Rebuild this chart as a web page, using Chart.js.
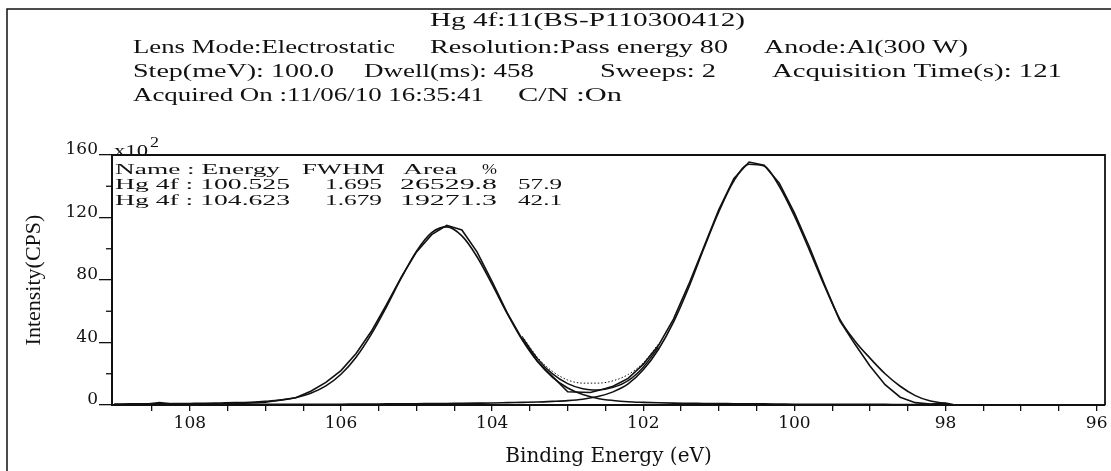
<!DOCTYPE html>
<html>
<head>
<meta charset="utf-8">
<script src="https://cdn.jsdelivr.net/npm/chart.js@4.4.1/dist/chart.umd.min.js"></script>
<style>
  html, body { margin: 0; padding: 0; background: #fff; }
  canvas { display: block; }
</style>
</head>
<body>
<canvas id="xps" width="1111" height="471"></canvas>
<script>
// binding energy grid of the fitted components (eV)
const fitEnergy = [109.0,108.8,108.6,108.4,108.2,108.0,107.8,107.6,107.4,107.2,107.0,106.8,106.6,106.4,106.2,106.0,105.8,105.6,105.4,105.2,105.0,104.8,104.6,104.4,104.2,104.0,103.8,103.6,103.4,103.2,103.0,102.8,102.6,102.4,102.2,102.0,101.8,101.6,101.4,101.2,101.0,100.8,100.6,100.4,100.2,100.0,99.8,99.6,99.4,99.2,99.0,98.8,98.6,98.4,98.2,98.0];
// Hg 4f : 104.623 component (x10^2 CPS)
const peak104 = [0.6,0.7,0.7,0.8,0.9,1.0,1.1,1.3,1.5,1.8,2.3,3.1,4.7,7.5,12.2,19.7,30.6,45.2,62.7,81.5,98.5,110.3,114.0,108.2,94.9,77.2,58.5,41.5,27.8,17.7,10.9,6.7,4.2,2.9,2.1,1.7,1.4,1.2,1.1,1.0,0.9,0.8,0.7,0.7,0.6,0.5,0.5,0.5,0.4,0.4,0.4,0.4,0.3,0.3,0.3,0.3];
// Hg 4f : 100.525 component
const peak100 = [0.2,0.2,0.3,0.3,0.3,0.3,0.3,0.3,0.4,0.4,0.4,0.4,0.4,0.5,0.5,0.5,0.6,0.6,0.7,0.7,0.8,0.9,1.0,1.1,1.2,1.3,1.5,1.7,1.9,2.3,2.8,3.7,5.4,8.4,13.5,22.5,35.5,53.0,75.0,100.0,123.7,143.5,154.1,153.0,140.0,121.0,99.0,76.0,55.0,41.0,30.0,20.0,12.0,6.0,2.5,1.0];

// measured spectrum
const rawEnergy = [109.0,108.8,108.6,108.4,108.2,108.0,107.8,107.6,107.4,107.2,107.0,106.8,106.6,106.4,106.2,106.0,105.8,105.6,105.4,105.2,105.0,104.8,104.6,104.4,104.2,104.0,103.8,103.6,103.4,103.0,102.7,102.5,102.4,102.2,102.0,101.8,101.6,101.4,101.2,101.0,100.8,100.6,100.4,100.2,100.0,99.8,99.6,99.4,99.2,99.0,98.8,98.6,98.4,98.2,98.0,97.9];
const rawCounts = [0.3,0.2,0.4,1.6,0.4,0.3,0.6,0.6,0.9,1.3,1.8,3.2,4.6,8.8,14.5,22,33,47,64,82,98,109,115,112,98,79,59,42,28,8.5,8.0,10.5,12,17,26,38,55,77,101,125,145,155.5,153.5,142,123,101,77,54,39,25,13,5,1.5,0.6,1.2,0.3];

// envelope in the valley between the peaks
const valleyEnergy = [103.6,103.4,103.2,103.0,102.8,102.6,102.4,102.2,102.0,101.8];
const fitSum = [43.2,29.7,19.9,13.7,10.4,9.6,11.3,15.6,24.2,36.9];
const envelopeDotted = [44,30.5,21.5,16,14,14,15.5,19.5,27,39];

// axis ticks
const xTickValues = [96,96.5,97,97.5,98,98.5,99,99.5,100,100.5,101,101.5,102,102.5,103,103.5,104,104.5,105,105.5,106,106.5,107,107.5,108,108.5];
const xTickLabels = [96,98,100,102,104,106,108];
const yTickValues = [0,40,80,120,160];
const yMinorTicks = [20,60,100,140];

const ink = '#111';
const pts = (xs, ys) => xs.map((x, i) => ({x: x, y: ys[i]}));

function stretchText(ctx, str, x1, x2, y, size){
    ctx.font = size + 'px "Liberation Serif"';
    const w = ctx.measureText(str).width;
    ctx.save();
    ctx.translate(x1, y);
    ctx.scale((x2 - x1) / w, 1);
    ctx.textBaseline = 'middle';
    ctx.textAlign = 'left';
    ctx.fillText(str, 0, 0);
    ctx.restore();
}

const sheetPlugin = {
    id: 'sheet',
    afterDraw(chart){
        const ctx = chart.ctx;
        const a = chart.chartArea;
        const y = chart.scales.y;
        ctx.save();
        ctx.strokeStyle = ink;
        ctx.fillStyle = ink;
        // page border (top and left)
        ctx.lineWidth = 1.5;
        ctx.beginPath();
        ctx.moveTo(7, 471); ctx.lineTo(7, 9); ctx.lineTo(1111, 9);
        ctx.stroke();
        // frame top and right
        ctx.lineWidth = 1.8;
        ctx.beginPath();
        ctx.moveTo(a.left, a.top); ctx.lineTo(a.right, a.top); ctx.lineTo(a.right, a.bottom);
        ctx.stroke();
        // minor y ticks
        ctx.lineWidth = 1.3;
        yMinorTicks.forEach(v => {
            const p = y.getPixelForValue(v);
            ctx.beginPath(); ctx.moveTo(a.left - 6, p); ctx.lineTo(a.left, p); ctx.stroke();
        });
        // header
        stretchText(ctx, 'Hg 4f:11(BS-P110300412)', 430, 745, 21, 18);
        stretchText(ctx, 'Lens Mode:Electrostatic', 133, 395, 48, 18);
        stretchText(ctx, 'Resolution:Pass energy 80', 430, 728, 48, 18);
        stretchText(ctx, 'Anode:Al(300 W)', 764, 968, 48, 18);
        stretchText(ctx, 'Step(meV): 100.0', 133, 334, 72, 18);
        stretchText(ctx, 'Dwell(ms): 458', 364, 534, 72, 18);
        stretchText(ctx, 'Sweeps: 2', 600, 716, 72, 18);
        stretchText(ctx, 'Acquisition Time(s): 121', 772, 1062, 72, 18);
        stretchText(ctx, 'Acquired On :11/06/10 16:35:41', 133, 484, 96, 18);
        stretchText(ctx, 'C/N :On', 518, 622, 96, 18);
        // multiplier
        stretchText(ctx, 'x10', 114, 148, 152, 17);
        stretchText(ctx, '2', 150, 159, 143, 14);
        // peak table
        stretchText(ctx, 'Name : Energy', 115, 280, 170, 15);
        stretchText(ctx, 'FWHM', 302, 385, 170, 15);
        stretchText(ctx, 'Area', 403, 457, 170, 15);
        stretchText(ctx, '%', 482, 497, 170, 15);
        stretchText(ctx, 'Hg 4f : 100.525', 115, 290, 185.5, 15);
        stretchText(ctx, '1.695', 325, 382, 185.5, 15);
        stretchText(ctx, '26529.8', 400, 497, 185.5, 15);
        stretchText(ctx, '57.9', 518, 562, 185.5, 15);
        stretchText(ctx, 'Hg 4f : 104.623', 115, 290, 201, 15);
        stretchText(ctx, '1.679', 325, 382, 201, 15);
        stretchText(ctx, '19271.3', 400, 497, 201, 15);
        stretchText(ctx, '42.1', 518, 562, 201, 15);
        ctx.restore();
    }
};

const tickFont = {family: '"DejaVu Serif"', size: 17};

new Chart(document.getElementById('xps').getContext('2d'), {
    type: 'line',
    data: {
        datasets: [
            {label: 'Measured', data: pts(rawEnergy, rawCounts), borderColor: ink, borderWidth: 1.6, pointRadius: 0, tension: 0, fill: false},
            {label: 'Hg 4f : 100.525', data: pts(fitEnergy, peak100), borderColor: ink, borderWidth: 1.6, pointRadius: 0, cubicInterpolationMode: 'monotone', fill: false},
            {label: 'Hg 4f : 104.623', data: pts(fitEnergy, peak104), borderColor: ink, borderWidth: 1.6, pointRadius: 0, cubicInterpolationMode: 'monotone', fill: false},
            {label: 'Sum', data: pts(valleyEnergy, fitSum), borderColor: ink, borderWidth: 1.4, pointRadius: 0, cubicInterpolationMode: 'monotone', fill: false},
            {label: 'Envelope', data: pts(valleyEnergy, envelopeDotted), borderColor: ink, borderWidth: 1, borderDash: [1.5, 2], pointRadius: 0, cubicInterpolationMode: 'monotone', fill: false}
        ]
    },
    options: {
        responsive: false,
        devicePixelRatio: 1,
        animation: false,
        layout: {padding: {top: 155, right: 6, left: 0, bottom: 0}},
        plugins: {legend: {display: false}, tooltip: {enabled: false}},
        scales: {
            x: {
                type: 'linear',
                reverse: true,
                min: 95.89,
                max: 109.03,
                afterBuildTicks: axis => { axis.ticks = xTickValues.map(v => ({value: v})); },
                afterFit: s => { s.height = 66; },
                grid: {drawOnChartArea: false, drawTicks: true, tickLength: 6, color: ink, lineWidth: 1.3},
                border: {display: true, color: ink, width: 2},
                ticks: {
                    autoSkip: false, maxRotation: 0, padding: 2, color: ink, font: tickFont,
                    callback: v => xTickLabels.includes(v) ? String(v) : ''
                },
                title: {display: true, text: 'Binding Energy (eV)', color: ink, font: {family: '"DejaVu Serif"', size: 20}, padding: {top: 0, bottom: 2}}
            },
            y: {
                min: 0,
                max: 160,
                afterBuildTicks: axis => { axis.ticks = yTickValues.map(v => ({value: v})); },
                afterFit: s => { s.width = 112; },
                grid: {drawOnChartArea: false, drawTicks: true, tickLength: 13, color: ink, lineWidth: 1.3},
                border: {display: true, color: ink, width: 2},
                ticks: {padding: 1, labelOffset: -5, color: ink, font: tickFont},
                title: {display: true, text: 'Intensity(CPS)', color: ink, font: {family: '"Liberation Serif"', size: 22}, padding: {top: 21, bottom: 0}}
            }
        }
    },
    plugins: [sheetPlugin]
});
</script>
</body>
</html>
